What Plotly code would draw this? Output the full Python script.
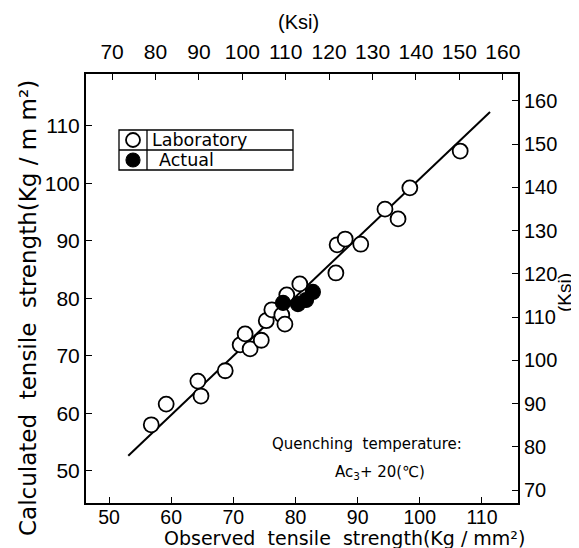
import plotly.graph_objects as go

# ---- data (kg/mm^2) ----
lab_observed = [56.8, 59.2, 64.3, 64.8, 68.7, 71.1, 71.9, 72.7, 74.5, 75.3, 76.2, 77.8,
                78.3, 78.6, 80.7, 86.5, 86.7, 88.0, 90.5, 94.4, 96.5, 98.4, 106.5]
lab_calculated = [58.0, 61.6, 65.6, 63.0, 67.4, 71.9, 73.8, 71.2, 72.7, 76.1, 78.0, 77.1,
                  75.5, 80.6, 82.5, 84.4, 89.3, 90.3, 89.4, 95.5, 93.8, 99.2, 105.6]
act_observed = [78.0, 80.4, 81.7, 82.8]
act_calculated = [79.2, 79.0, 79.7, 81.1]
fit_x = [53.1, 111.3]
fit_y = [52.6, 112.4]

x_ticks = [50, 60, 70, 80, 90, 100, 110]
y_ticks = [50, 60, 70, 80, 90, 100, 110]
ksi_top_ticks = [70, 80, 90, 100, 110, 120, 130, 140, 150, 160]
ksi_right_ticks = [70, 80, 90, 100, 110, 120, 130, 140, 150, 160]

W, H = 579, 548
L, R, T, B = 78, 510, 66, 495
TICKFONT = "Liberation Sans"
TEXTFONT = "DejaVu Sans"


def px(x):
    return (x - L) / (R - L)


def py(y):
    return (B - y) / (B - T)


fig = go.Figure()
fig.add_trace(go.Scatter(x=fit_x, y=fit_y, mode="lines",
                         line=dict(color="black", width=2), showlegend=False, hoverinfo="skip"))
fig.add_trace(go.Scatter(x=lab_observed, y=lab_calculated, mode="markers", name="Laboratory",
                         marker=dict(symbol="circle", size=15, color="white",
                                     line=dict(color="black", width=1.8)), showlegend=False))
fig.add_trace(go.Scatter(x=act_observed, y=act_calculated, mode="markers", name="Actual",
                         marker=dict(symbol="circle", size=15, color="black",
                                     line=dict(color="black", width=1.2)), showlegend=False))
fig.add_trace(go.Scatter(x=[], y=[], xaxis="x2", yaxis="y2", showlegend=False, hoverinfo="skip"))


def axis_style(size):
    return dict(showgrid=False, zeroline=False, showline=True, linecolor="black", linewidth=2,
                ticks="inside", ticklen=6, tickwidth=1.2, tickcolor="black",
                tickfont=dict(family=TICKFONT, size=size, color="black"))


fig.update_layout(
    width=W, height=H,
    margin=dict(l=L, r=W - R, t=T, b=H - B),
    paper_bgcolor="white", plot_bgcolor="white",
    showlegend=False,
    xaxis=dict(range=[46.3, 115.8], tickvals=x_ticks, ticklabelstandoff=-4, **axis_style(19.5)),
    yaxis=dict(range=[44.4, 119.0], tickvals=y_ticks, ticklabelstandoff=0, **axis_style(21)),
    xaxis2=dict(range=[64.0, 163.5], tickvals=ksi_top_ticks, overlaying="x", side="top",
                ticklabelstandoff=5, **axis_style(21)),
    yaxis2=dict(range=[67.0, 166.2], tickvals=ksi_right_ticks, overlaying="y", side="right",
                ticklabelstandoff=0, **axis_style(20)),
)

ann = []


def add_text(text, x, y, size=20, angle=0, xanchor="center", family=TEXTFONT):
    ann.append(dict(text=text, x=px(x), y=py(y), xref="paper", yref="paper", showarrow=False,
                    xanchor=xanchor, yanchor="middle", textangle=angle,
                    font=dict(family=family, size=size, color="black")))


add_text("Observed&nbsp;&nbsp;tensile&nbsp;&nbsp;strength(Kg / mm²)", 336, 529.5, 19)
add_text("Calculated&nbsp;&nbsp;tensile&nbsp;&nbsp;strength(Kg / m m²)", 20, 300, 23, angle=-90)
add_text("(Ksi)", 290, 14, 20, family=TICKFONT)
add_text("(Ksi)", 556, 285, 19, angle=-90, family=TICKFONT)
add_text("Quenching&nbsp;&nbsp;temperature:", 262, 436, 15, xanchor="left")
add_text("Ac<sub>3</sub>+ 20(℃)", 325, 464, 15, xanchor="left")
add_text("Laboratory", 142, 132, 17.5, xanchor="left")
add_text("Actual", 149, 152, 17.5, xanchor="left")
fig.update_layout(annotations=ann)

box_l, box_r, box_div = 111, 285, 139
box_top, box_mid, box_bot = 122, 142, 162
shapes = [
    dict(type="rect", x0=px(box_l), x1=px(box_r), y0=py(box_top), y1=py(box_bot)),
    dict(type="line", x0=px(box_l), x1=px(box_r), y0=py(box_mid), y1=py(box_mid)),
    dict(type="line", x0=px(box_div), x1=px(box_div), y0=py(box_top), y1=py(box_bot)),
]
for s in shapes:
    s.update(xref="paper", yref="paper", line=dict(color="black", width=1.3))
shapes.append(dict(type="circle", xref="paper", yref="paper", x0=px(118), x1=px(132),
                   y0=py(125), y1=py(139), line=dict(color="black", width=1.8), fillcolor="white"))
shapes.append(dict(type="circle", xref="paper", yref="paper", x0=px(118), x1=px(132),
                   y0=py(145), y1=py(159), line=dict(color="black", width=1.2), fillcolor="black"))
fig.update_layout(shapes=shapes)

fig.write_html("out.html")
